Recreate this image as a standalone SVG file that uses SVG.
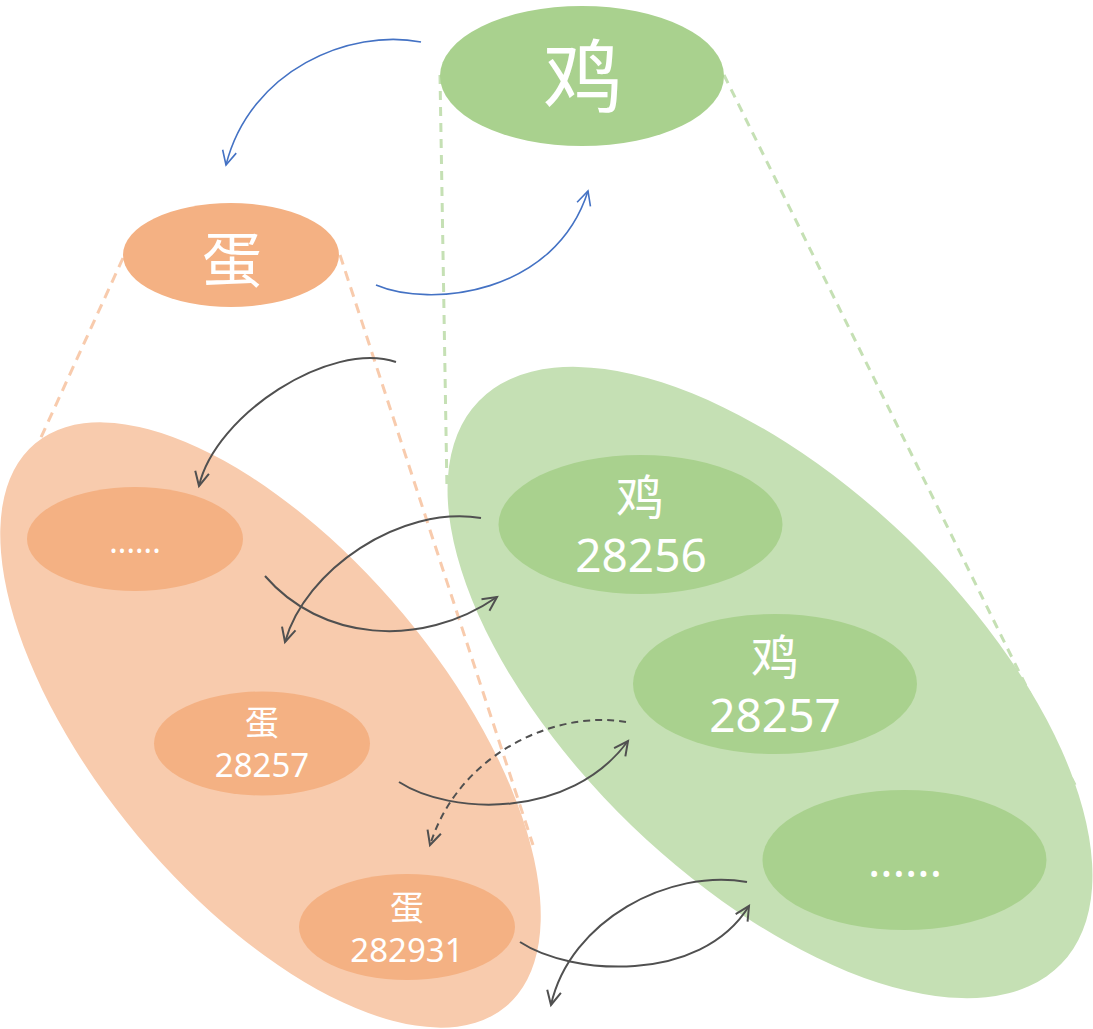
<svg xmlns="http://www.w3.org/2000/svg" width="1093" height="1029" viewBox="0 0 1093 1029">
<style>
text{font-family:"Noto Sans","Noto Sans CJK SC",sans-serif;fill:#fff;text-anchor:middle}
.big-egg{fill:#F8CBAD}
.big-hen{fill:#C5E0B4}
.egg{fill:#F4B183}
.hen{fill:#A9D18E}
.dash-egg{stroke:#F8CBAD;stroke-width:3;stroke-dasharray:10 7;fill:none}
.dash-hen{stroke:#C5E0B4;stroke-width:3;stroke-dasharray:9 7;fill:none}
.blue{stroke:#4472C4;stroke-width:1.6;fill:none;marker-end:url(#ab)}
.gray{stroke:#505050;stroke-width:2;fill:none;marker-end:url(#ag)}
.gdash{stroke-dasharray:7 5}
</style>
<defs>
<marker id="ab" markerUnits="userSpaceOnUse" markerWidth="30" markerHeight="30" refX="0" refY="0" orient="auto" overflow="visible">
<path d="M-14,-7 L0,0 L-14,7" fill="none" stroke="#4472C4" stroke-width="1.6"/>
</marker>
<marker id="ag" markerUnits="userSpaceOnUse" markerWidth="30" markerHeight="30" refX="0" refY="0" orient="auto" overflow="visible">
<path d="M-14,-7 L0,0 L-14,7" fill="none" stroke="#505050" stroke-width="2"/>
</marker>
</defs>
<g id="egg-set">
<ellipse class="big-egg" cx="270.5" cy="725" rx="367" ry="173" transform="rotate(50.1 270.5 725)"/>
</g>
<g id="hen-set">
<ellipse class="big-hen" cx="770" cy="682.5" rx="405" ry="199" transform="rotate(44 770 682.5)"/>
</g>
<g id="projection-lines">
<line class="dash-egg" x1="123" y1="258" x2="38" y2="444"/>
<line class="dash-egg" x1="340" y1="255" x2="533" y2="845"/>
<line class="dash-hen" x1="440" y1="75" x2="447" y2="490"/>
<line class="dash-hen" x1="724" y1="75" x2="1075" y2="785"/>
</g>
<g id="hen-top">
<ellipse class="hen" cx="582" cy="76" rx="142" ry="70"/>
<text x="583" y="106" font-size="80">鸡</text>
</g>
<g id="egg-top">
<ellipse class="egg" cx="231" cy="255" rx="108" ry="52"/>
<text x="232" y="282" font-size="60">蛋</text>
</g>
<g id="egg-dots">
<ellipse class="egg" cx="135" cy="539" rx="108" ry="52"/>
<text x="135" y="553" font-size="32">......</text>
</g>
<g id="egg-28257">
<ellipse class="egg" cx="262" cy="743.5" rx="108" ry="52"/>
<text x="262" y="735" font-size="34">蛋</text>
<text x="262" y="777" font-size="33">28257</text>
</g>
<g id="egg-282931">
<ellipse class="egg" cx="407" cy="927" rx="108" ry="53"/>
<text x="407" y="920" font-size="34">蛋</text>
<text x="407" y="962" font-size="33">282931</text>
</g>
<g id="hen-28256">
<ellipse class="hen" cx="640.5" cy="524.5" rx="142" ry="69.5"/>
<text x="640" y="515" font-size="48">鸡</text>
<text x="641" y="572" font-size="46">28256</text>
</g>
<g id="hen-28257">
<ellipse class="hen" cx="775" cy="684" rx="142" ry="70"/>
<text x="775" y="675" font-size="48">鸡</text>
<text x="775" y="732" font-size="46">28257</text>
</g>
<g id="hen-dots">
<ellipse class="hen" cx="904.5" cy="860" rx="142" ry="70"/>
<text x="905" y="877" font-size="46">......</text>
</g>
<g id="connectors">
<path class="blue" d="M421,42 C350,28 250,70 226,165"/>
<path class="blue" d="M376,285 C430,308 555,295 588,191"/>
<path class="gray" d="M396,362 C330,340 215,415 199,486"/>
<path class="gray" d="M265,576 C320,640 420,650 497,597"/>
<path class="gray" d="M481,518 C400,505 305,570 285,642"/>
<path class="gray" d="M399,782 C450,815 570,820 628,741"/>
<path class="gray gdash" d="M626,722 C560,710 460,750 430,845"/>
<path class="gray" d="M520,942 C570,975 700,985 749,906"/>
<path class="gray" d="M747,882 C670,868 570,920 551,1005"/>
</g>
</svg>
